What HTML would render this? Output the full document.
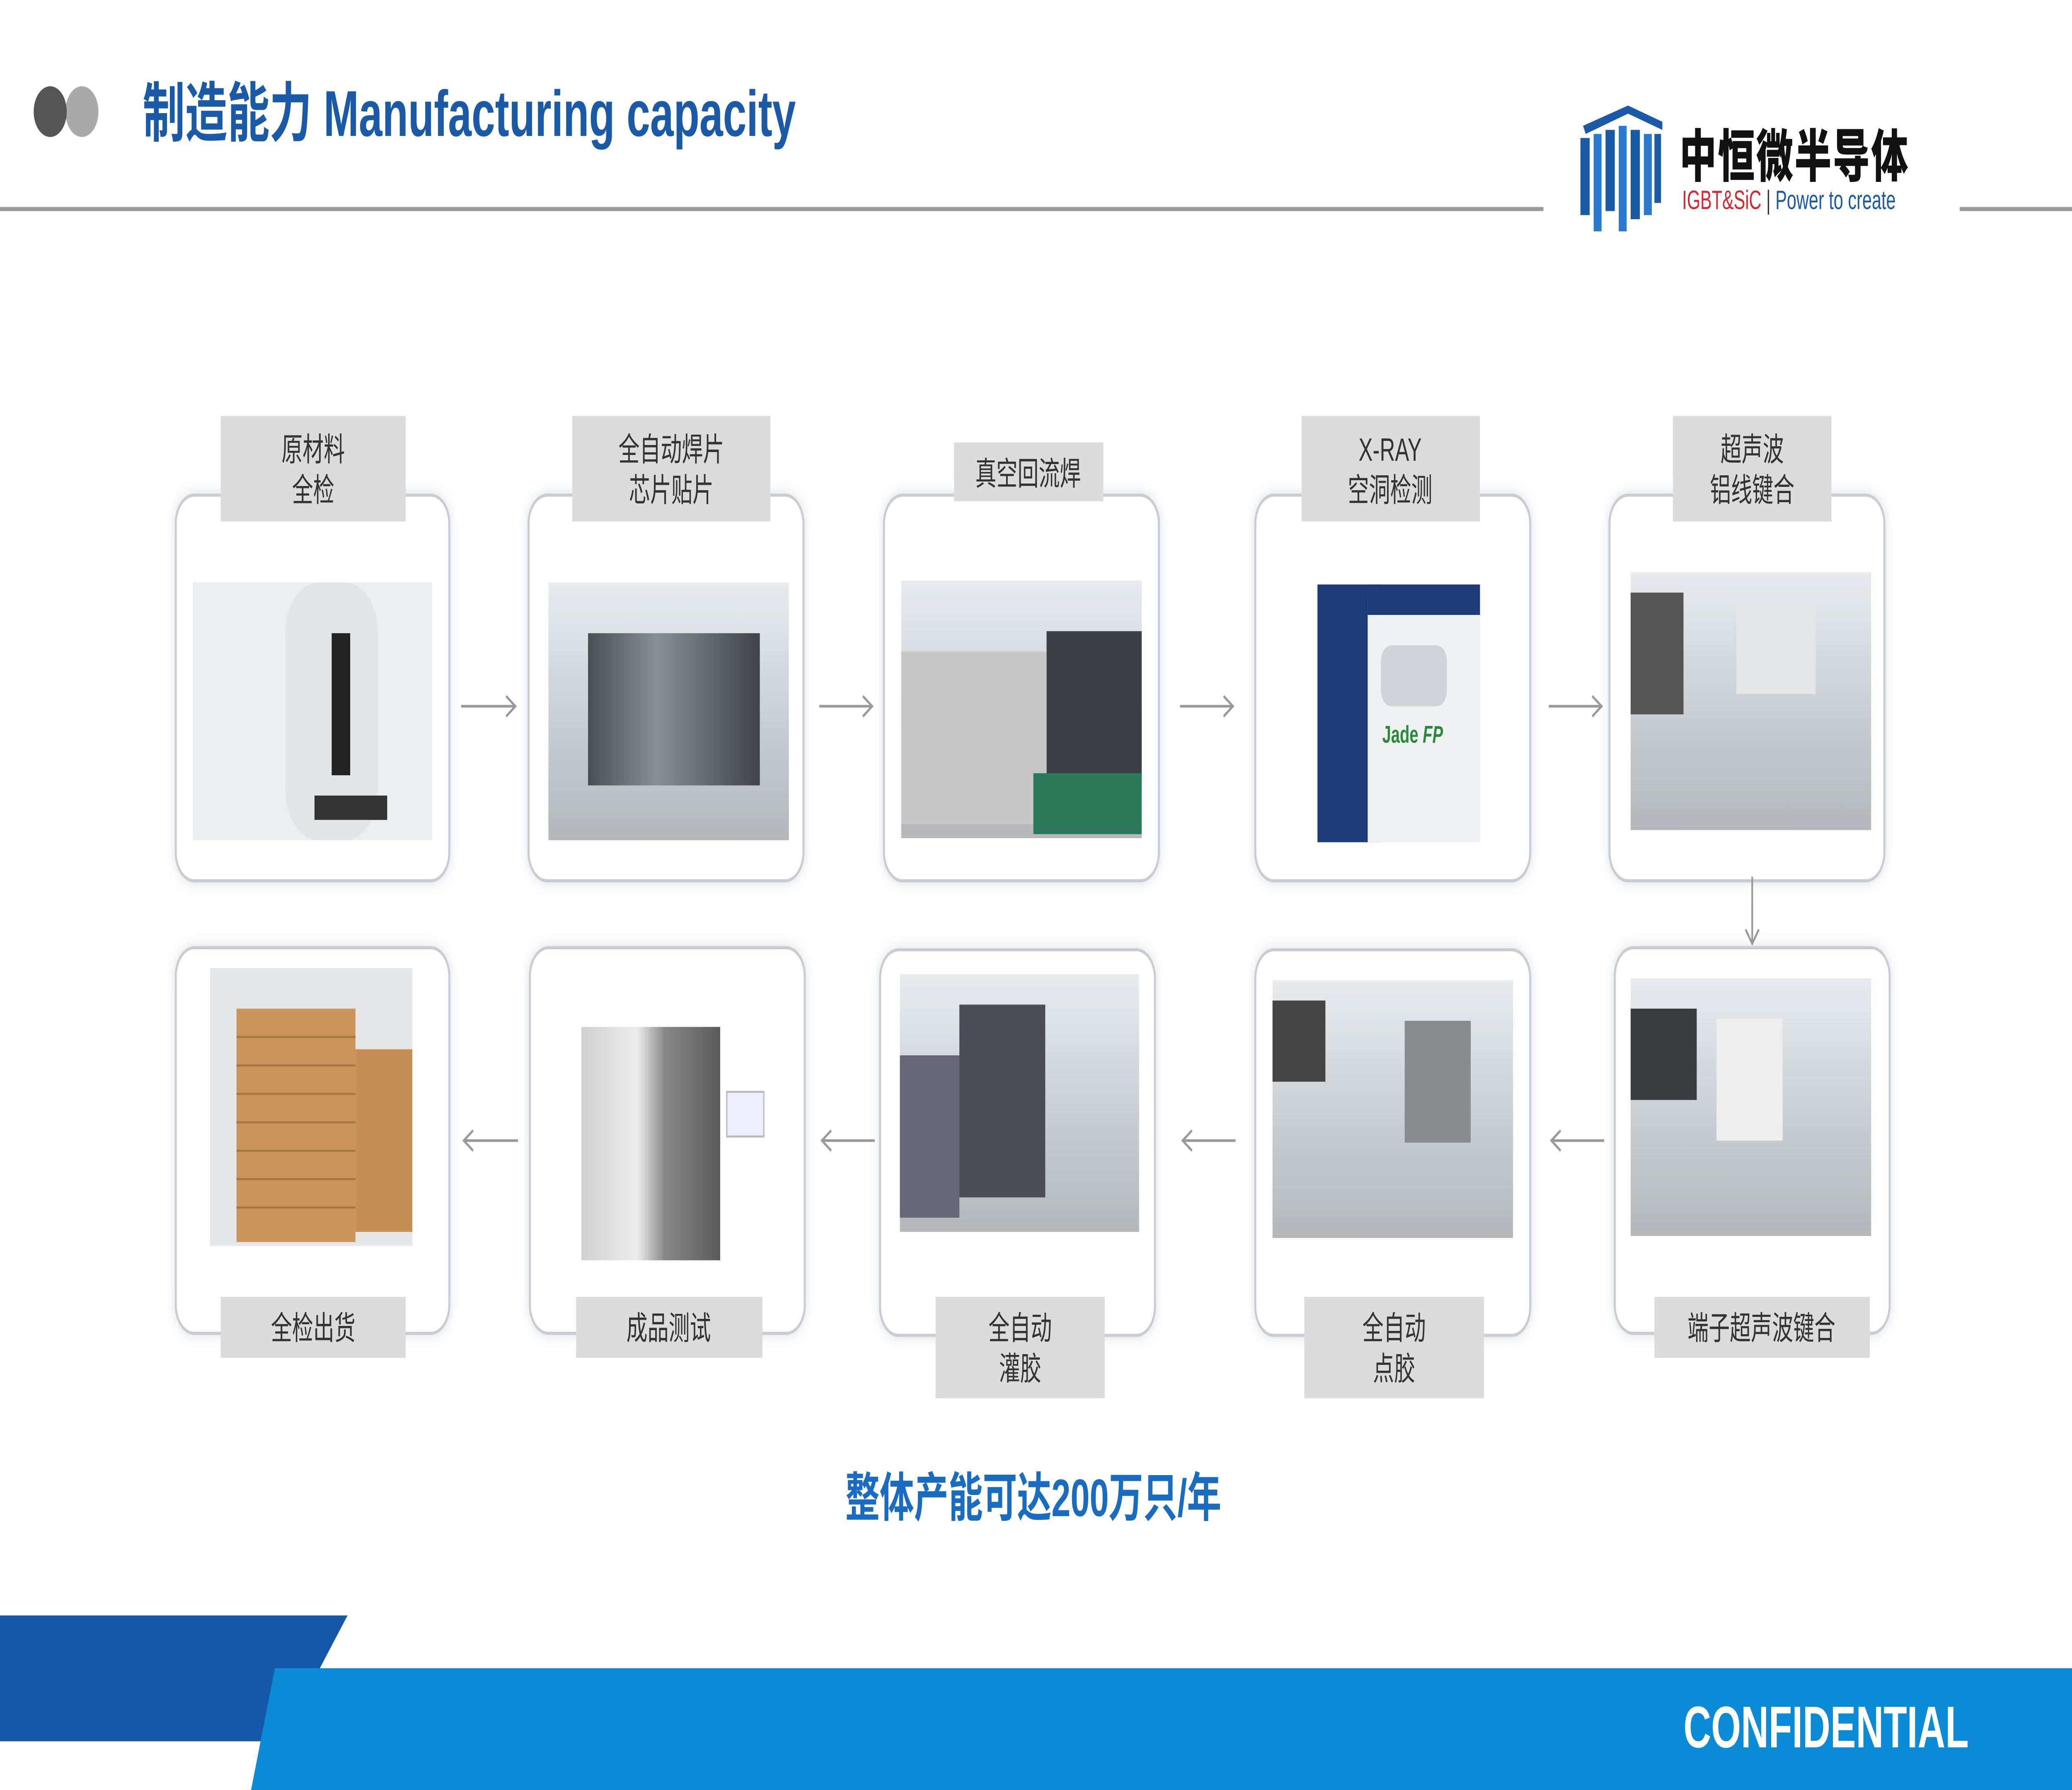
<!DOCTYPE html>
<html><head><meta charset="utf-8"><style>
html,body{margin:0;padding:0;background:#fff;overflow:hidden;width:100vw;height:100vh}
svg{display:block;width:100vw;height:100vh}
text{font-family:"Liberation Sans","Noto Sans CJK SC",sans-serif}
.lt{font-size:16px;fill:#333;text-anchor:middle}
</style></head><body>
<svg viewBox="0 0 1568 882" preserveAspectRatio="none" xmlns="http://www.w3.org/2000/svg">
<defs>
<filter id="sh" x="-10%" y="-10%" width="120%" height="120%"><feDropShadow dx="0" dy="0" stdDeviation="3" flood-color="#8090a8" flood-opacity="0.3"/></filter>
<linearGradient id="g1" x1="0" y1="0" x2="0" y2="1"><stop offset="0" stop-color="#e8ecef"/><stop offset=".55" stop-color="#c9ced2"/><stop offset="1" stop-color="#b4b8bb"/></linearGradient>
<linearGradient id="g2" x1="0" y1="0" x2="1" y2="0"><stop offset="0" stop-color="#4a4f55"/><stop offset=".4" stop-color="#8a8f94"/><stop offset="1" stop-color="#3f4348"/></linearGradient>
<linearGradient id="g3" x1="0" y1="0" x2="1" y2="0"><stop offset="0" stop-color="#d0d0d0"/><stop offset=".4" stop-color="#eee"/><stop offset=".6" stop-color="#888"/><stop offset="1" stop-color="#5a5a5a"/></linearGradient>
</defs>
<rect width="1568" height="882" fill="#fff"/>
<!-- header -->
<circle cx="62" cy="55" r="12.5" fill="#aaa"/>
<circle cx="38" cy="55" r="12.5" fill="#555"/>
<text x="108" y="67" font-size="32" font-weight="bold" fill="#1b5aa6">制造能力  Manufacturing capacity</text>
<rect x="0" y="102" width="1168" height="2" fill="#9a9a9a"/>
<rect x="1483" y="102" width="85" height="2" fill="#9a9a9a"/>
<g transform="translate(1192,50)">
<path d="M6 12 L40 2 L66 10 L66 14 L40 6 L8 16Z" fill="#1b5aa6"/>
<rect x="4" y="18" width="7" height="38" fill="#1b5aa6"/><rect x="14" y="16" width="6" height="48" fill="#2a7ad0"/>
<rect x="23" y="14" width="7" height="40" fill="#1b5aa6"/><rect x="33" y="12" width="6" height="52" fill="#2a7ad0"/>
<rect x="42" y="14" width="7" height="44" fill="#1b5aa6"/><rect x="52" y="16" width="6" height="40" fill="#2a7ad0"/><rect x="60" y="16" width="5" height="34" fill="#1b5aa6"/>
</g>
<text x="1271" y="87" font-size="28" font-weight="900" fill="#111" letter-spacing="1">中恒微半导体</text>
<text x="1273" y="103" font-size="13"><tspan fill="#d7262e">IGBT&amp;SiC</tspan><tspan fill="#333"> | </tspan><tspan fill="#1b5aa6">Power to create</tspan></text>

<!-- boxes -->
<g fill="#fff" stroke="#c9ccd2" stroke-width="1.5" filter="url(#sh)">
<rect x="133" y="244" width="207" height="190" rx="14"/>
<rect x="400" y="244" width="208" height="190" rx="14"/>
<rect x="669" y="244" width="208" height="190" rx="14"/>
<rect x="950" y="244" width="208" height="190" rx="14"/>
<rect x="1218" y="244" width="208" height="190" rx="14"/>
<rect x="133" y="467" width="207" height="190" rx="14"/>
<rect x="401" y="467" width="208" height="190" rx="14"/>
<rect x="666" y="468" width="208" height="190" rx="14"/>
<rect x="950" y="468" width="208" height="190" rx="14"/>
<rect x="1222" y="467" width="208" height="190" rx="14"/>
</g>

<!-- images row1 -->
<rect x="146" y="287" width="181" height="127" fill="#eceef1"/>
<rect x="216" y="287" width="70" height="127" rx="25" fill="#e2e4e8"/>
<rect x="251" y="312" width="14" height="70" fill="#222"/><rect x="238" y="392" width="55" height="12" fill="#333"/>

<rect x="415" y="287" width="182" height="127" fill="url(#g1)"/>
<rect x="445" y="312" width="130" height="75" fill="url(#g2)"/>

<rect x="682" y="286" width="182" height="127" fill="url(#g1)"/>
<rect x="682" y="321" width="110" height="85" fill="#c8c8c8"/>
<rect x="792" y="311" width="72" height="75" fill="#3c4044"/>
<rect x="782" y="381" width="82" height="30" fill="#2c7a5a"/>

<rect x="997" y="288" width="48" height="127" fill="#1c3a78"/>
<rect x="1035" y="293" width="85" height="122" fill="#f0f1f2"/>
<rect x="1035" y="288" width="85" height="15" fill="#1c3a78"/>
<rect x="1045" y="318" width="50" height="30" rx="8" fill="#cfd3d8"/>
<text x="1046" y="366" font-size="12" font-weight="bold" fill="#2a8a3a">Jade <tspan font-style="italic">FP</tspan></text>

<rect x="1234" y="282" width="182" height="127" fill="url(#g1)"/>
<rect x="1234" y="292" width="40" height="60" fill="#555"/>
<rect x="1314" y="297" width="60" height="45" fill="#e4e5e6"/>

<!-- images row2 -->
<rect x="159" y="477" width="153" height="137" fill="#e4e6e8"/>
<rect x="179" y="497" width="90" height="115" fill="#c9955a"/>
<g stroke="#a8773f" stroke-width="1"><path d="M179 511H269M179 525H269M179 539H269M179 553H269M179 567H269M179 581H269M179 595H269"/></g>
<rect x="269" y="517" width="43" height="90" fill="#c58f55"/>

<rect x="440" y="506" width="105" height="115" fill="url(#g3)"/>
<rect x="550" y="538" width="28" height="22" fill="#eef" stroke="#bbb"/>

<rect x="681" y="480" width="181" height="127" fill="url(#g1)"/>
<rect x="726" y="495" width="65" height="95" fill="#4a4e53"/>
<rect x="681" y="520" width="45" height="80" fill="#667"/>

<rect x="963" y="483" width="182" height="127" fill="url(#g1)"/>
<rect x="963" y="493" width="40" height="40" fill="#444"/>
<rect x="1063" y="503" width="50" height="60" fill="#8a8d90"/>

<rect x="1234" y="482" width="182" height="127" fill="url(#g1)"/>
<rect x="1234" y="497" width="50" height="45" fill="#3a3d40"/>
<rect x="1299" y="502" width="50" height="60" fill="#eee"/>

<!-- labels -->
<g fill="#dcdcdc">
<rect x="167" y="205" width="140" height="52"/><rect x="433" y="205" width="150" height="52"/>
<rect x="722" y="218" width="113" height="29"/><rect x="985" y="205" width="135" height="52"/>
<rect x="1266" y="205" width="120" height="52"/>
<rect x="167" y="639" width="140" height="30"/><rect x="436" y="639" width="141" height="30"/>
<rect x="708" y="639" width="128" height="50"/><rect x="987" y="639" width="136" height="50"/>
<rect x="1252" y="639" width="163" height="30"/>
</g>
<text class="lt" x="237" y="227">原材料</text><text class="lt" x="237" y="247">全检</text>
<text class="lt" x="508" y="227">全自动焊片</text><text class="lt" x="508" y="247">芯片贴片</text>
<text class="lt" x="778" y="239">真空回流焊</text>
<text class="lt" x="1052" y="227">X-RAY</text><text class="lt" x="1052" y="247">空洞检测</text>
<text class="lt" x="1326" y="227">超声波</text><text class="lt" x="1326" y="247">铝线键合</text>
<text class="lt" x="237" y="660">全检出货</text>
<text class="lt" x="506" y="660">成品测试</text>
<text class="lt" x="772" y="660">全自动</text><text class="lt" x="772" y="680">灌胶</text>
<text class="lt" x="1055" y="660">全自动</text><text class="lt" x="1055" y="680">点胶</text>
<text class="lt" x="1333" y="660">端子超声波键合</text>

<!-- arrows -->
<g fill="none" stroke="#999" stroke-width="1.3">
<path d="M349 348H390M383 343L390 348L383 353"/><path d="M620 348H660M653 343L660 348L653 353"/><path d="M893 348H933M926 343L933 348L926 353"/><path d="M1172 348H1212M1205 343L1212 348L1205 353"/>
<path d="M1326 432V465M1321 458L1326 465L1331 458"/>
<path d="M392 562H351M358 557L351 562L358 567"/><path d="M662 562H622M629 557L622 562L629 567"/><path d="M935 562H895M902 557L895 562L902 567"/><path d="M1214 562H1174M1181 557L1174 562L1181 567"/>
</g>

<text x="782" y="747" font-size="26" font-weight="bold" fill="#1a6cc0" text-anchor="middle">整体产能可达200万只/年</text>

<polygon points="0,796 263,796 213,858 0,858" fill="#1558a8"/>
<polygon points="208,822 1568,822 1568,882 190,882" fill="#0b8ad6"/>
<text x="1274" y="861" font-size="29" font-weight="bold" fill="#fff">CONFIDENTIAL</text>
</svg>
</body></html>
